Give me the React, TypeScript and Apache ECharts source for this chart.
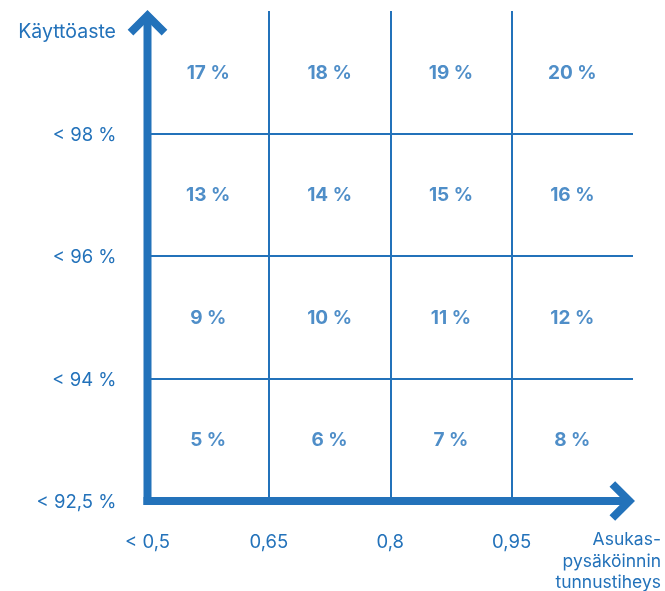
import React, { useEffect, useRef } from "react";
import * as echarts from "echarts";

const xTickLabels = ["< 0,5", "0,65", "0,8", "0,95"];
const yTickLabels = ["< 92,5 %", "< 94 %", "< 96 %", "< 98 %"];
const xCategories = ["0,5–0,65", "0,65–0,8", "0,8–0,95", "0,95–"];
const yCategories = ["92,5–94", "94–96", "96–98", "98–"];
// values per row, bottom row first
const row1 = [5, 6, 7, 8];
const row2 = [9, 10, 11, 12];
const row3 = [13, 14, 15, 16];
const row4 = [17, 18, 19, 20];
const rows = [row1, row2, row3, row4];
const yName = "Käyttöaste";
const xName = "Asukas-\npysäköinnin\ntunnustiheys";

const BLUE = "#2372ba";
const FONT = "Inter";

export default function App() {
  const ref = useRef<HTMLDivElement>(null);
  useEffect(() => {
    if (!ref.current) return;
    const chart = echarts.init(ref.current, null, { renderer: "svg" });
    const data: any[] = [];
    rows.forEach((r, yi) =>
      r.forEach((v, xi) => data.push([xCategories[xi], yCategories[yi], v]))
    );
    const axisLabelBase = {
      color: BLUE,
      fontFamily: FONT,
      fontSize: 18.5,
    };
    chart.setOption({
      animation: false,
      grid: { left: 147.5, right: 32, top: 11, bottom: 90 },
      xAxis: [
        {
          type: "value",
          min: 0,
          max: 4,
          interval: 1,
          axisLine: { show: false },
          axisTick: { show: false },
          axisLabel: {
            ...axisLabelBase,
            margin: 30,
            formatter: (v: number) => xTickLabels[v] ?? "",
          },
          splitLine: {
            show: true,
            showMinLine: false,
            showMaxLine: false,
            lineStyle: { color: BLUE, width: 2 },
          },
        },
        {
          type: "category",
          data: xCategories,
          show: false,
          boundaryGap: true,
        },
      ],
      yAxis: [
        {
          type: "value",
          min: 0,
          max: 4,
          interval: 1,
          axisLine: { show: false },
          axisTick: { show: false },
          axisLabel: {
            ...axisLabelBase,
            margin: 31,
            formatter: (v: number) => yTickLabels[v] ?? "",
          },
          splitLine: {
            show: true,
            showMinLine: false,
            showMaxLine: false,
            lineStyle: { color: BLUE, width: 2 },
          },
        },
        {
          type: "category",
          data: yCategories,
          show: false,
          boundaryGap: true,
        },
      ],
      series: [
        {
          type: "scatter",
          xAxisIndex: 1,
          yAxisIndex: 1,
          symbolSize: 0,
          data,
          label: {
            show: true,
            position: "inside",
            formatter: (p: any) => `${p.value[2]} %`,
            color: BLUE,
            fontFamily: FONT,
            fontSize: 19,
            fontWeight: 700,
          },
        },
      ],
    });
    const o = chart.convertToPixel({ xAxisIndex: 0, yAxisIndex: 0 }, [0, 0]) as number[];
    const t = chart.convertToPixel({ xAxisIndex: 0, yAxisIndex: 0 }, [0, 4]) as number[];
    const r = chart.convertToPixel({ xAxisIndex: 0, yAxisIndex: 0 }, [4, 0]) as number[];
    const W = 8;
    const miter = (W / 2) * Math.SQRT2;
    const arm = 17;
    const yTip = t[1] - 1;
    const xTip = r[0] + 2;
    const yV = yTip + miter;
    const xV = xTip - miter;
    const lineStyle = { stroke: BLUE, lineWidth: W, lineCap: "butt", lineJoin: "miter" };
    chart.setOption({
      graphic: [
        {
          type: "line",
          shape: { x1: o[0], y1: o[1] + W / 2, x2: o[0], y2: yV },
          style: lineStyle,
          z: 10,
        },
        {
          type: "line",
          shape: { x1: o[0] - W / 2, y1: o[1], x2: xV, y2: o[1] },
          style: lineStyle,
          z: 10,
        },
        {
          type: "polyline",
          shape: {
            points: [
              [o[0] - arm, yV + arm],
              [o[0], yV],
              [o[0] + arm, yV + arm],
            ],
          },
          style: { ...lineStyle, fill: null },
          z: 10,
        },
        {
          type: "polyline",
          shape: {
            points: [
              [xV - arm, o[1] - arm],
              [xV, o[1]],
              [xV - arm, o[1] + arm],
            ],
          },
          style: { ...lineStyle, fill: null },
          z: 10,
        },
        {
          type: "text",
          x: 116,
          y: 31,
          style: {
            text: yName,
            fill: BLUE,
            font: `19.5px ${FONT}`,
            textAlign: "right",
            textVerticalAlign: "middle",
          },
        },
        {
          type: "text",
          x: 661,
          y: 528,
          style: {
            text: xName,
            fill: BLUE,
            font: `17.5px ${FONT}`,
            lineHeight: 21.5,
            textAlign: "right",
            textVerticalAlign: "top",
          },
        },
      ],
    });
    return () => chart.dispose();
  }, []);
  return (
    <div
      ref={ref}
      style={{ position: "fixed", left: 0, top: 0, width: 665, height: 591 }}
    />
  );
}
